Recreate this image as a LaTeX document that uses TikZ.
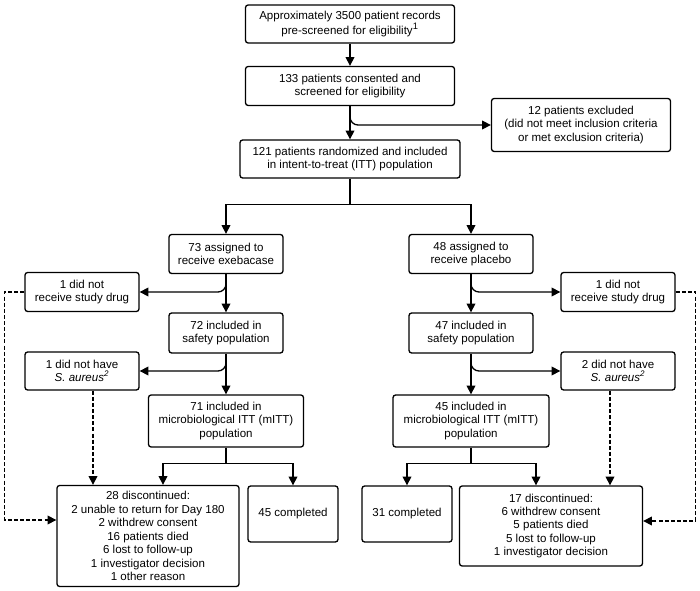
\documentclass[tikz,border=0pt]{standalone}
\usepackage{fontspec}
\setmainfont{Liberation Sans}
\usetikzlibrary{arrows.meta,calc}

\tikzset{every picture/.style={line width=0.75pt}}
\tikzset{
	box/.style 2 args={draw, rounded corners=2pt, line width=1pt, align=center, inner sep=0pt,
		font=\fontsize{8.65}{10.1}\selectfont, minimum width=#1*0.75pt, minimum height=#2*0.75pt},
	arr/.style={line width=1pt, -{Triangle[length=6.5pt,width=6.5pt]}},
	dsh/.style={arr, dash pattern=on 3pt off 1.6pt},
}

\begin{document}
\begin{tikzpicture}[x=0.75pt,y=0.75pt,yscale=-1,xscale=1]
	\useasboundingbox (0,0) rectangle (700,591);

	% Screening
	\node [box={209}{38}] (recs) at (350,24) {Approximately 3500 patient records\\pre-screened for eligibility\textsuperscript{\scriptsize 1}};
	\node [box={209}{39}] (consent) at (350,86) {133 patients consented and\\screened for eligibility};
	\node [box={179}{53}] (excl) at (581,125) {12 patients excluded\\(did not meet inclusion criteria\\or met exclusion criteria)};
	\node [box={220}{38}] (rand) at (350,159) {121 patients randomized and included\\in intent-to-treat (ITT) population};

	% Exebacase arm
	\node [box={114}{39}] (exe) at (226,254) {73 assigned to\\receive exebacase};
	\node [box={114}{39}] (drug1) at (82,292) {1 did not\\receive study drug};
	\node [box={114}{40}] (safe1) at (226,333) {72 included in\\safety population};
	\node [box={114}{38}] (sa1) at (82,371) {1 did not have\\\textit{S. aureus\textsuperscript{2}}};
	\node [box={155}{52}] (mitt1) at (226,421) {71 included in\\microbiological ITT (mITT)\\population};
	\node [box={182}{101}] (disc1) at (148,536) {28 discontinued:\\2 unable to return for Day 180\\2 withdrew consent\\16 patients died\\6 lost to follow-up\\1 investigator decision\\1 other reason};
	\node [box={90}{56}] (comp1) at (293,514) {45 completed};

	% Placebo arm
	\node [box={124}{39}] (plac) at (471,254) {48 assigned to\\receive placebo};
	\node [box={114}{39}] (drug2) at (618,292) {1 did not\\receive study drug};
	\node [box={124}{40}] (safe2) at (471,333) {47 included in\\safety population};
	\node [box={114}{38}] (sa2) at (618,371) {2 did not have\\\textit{S. aureus\textsuperscript{2}}};
	\node [box={156}{52}] (mitt2) at (471,421) {45 included in\\microbiological ITT (mITT)\\population};
	\node [box={90}{56}] (comp2) at (407,514) {31 completed};
	\node [box={183}{80}] (disc2) at (551,526) {17 discontinued:\\6 withdrew consent\\5 patients died\\5 lost to follow-up\\1 investigator decision};

	% Main flow
	\draw [arr] (recs) -- (consent);
	\draw [arr] (consent) -- (rand);
	\draw [arr, rounded corners=6pt] ($(consent.south)+(0,10)$) |- (excl.west);
	\draw [line width=1pt] (rand.south) -- ++(0,26) coordinate (split);
	\draw [arr] (split) -| (exe.north);
	\draw [arr] (split) -| (plac.north);

	% Exebacase flow
	\draw [arr] (exe) -- (safe1);
	\draw [arr, rounded corners=6pt] ($(exe.south)+(0,11)$) |- (drug1.east);
	\draw [arr] (safe1) -- (mitt1);
	\draw [arr, rounded corners=6pt] ($(safe1.south)+(0,11)$) |- (sa1.east);
	\draw [line width=1pt] (mitt1.south) -- ++(0,16) coordinate (bs1);
	\draw [arr] (bs1) -| (comp1.north);
	\draw [arr] (bs1) -| ($(disc1.north)+(15,0)$);

	% Placebo flow
	\draw [arr] (plac) -- (safe2);
	\draw [arr, rounded corners=6pt] ($(plac.south)+(0,11)$) |- (drug2.west);
	\draw [arr] (safe2) -- (mitt2);
	\draw [arr, rounded corners=6pt] ($(safe2.south)+(0,11)$) |- (sa2.west);
	\draw [line width=1pt] (mitt2.south) -- ++(0,16) coordinate (bs2);
	\draw [arr] (bs2) -| (comp2.north);
	\draw [arr] (bs2) -| ($(disc2.north)+(-15,0)$);

	% Dashed links
	\coordinate (d1) at ($(sa1.south)+(11,0)$);
	\coordinate (d2) at ($(sa2.south)+(-8,0)$);
	\draw [dsh] (drug1.west) -- ++(-20,0) |- ($(disc1.west)+(0,-16)$);
	\draw [dsh] (d1) -- (d1 |- disc1.north);
	\draw [dsh] (drug2.east) -- ++(20,0) |- ($(disc2.east)+(0,-5)$);
	\draw [dsh] (d2) -- (d2 |- disc2.north);

\end{tikzpicture}
\end{document}
